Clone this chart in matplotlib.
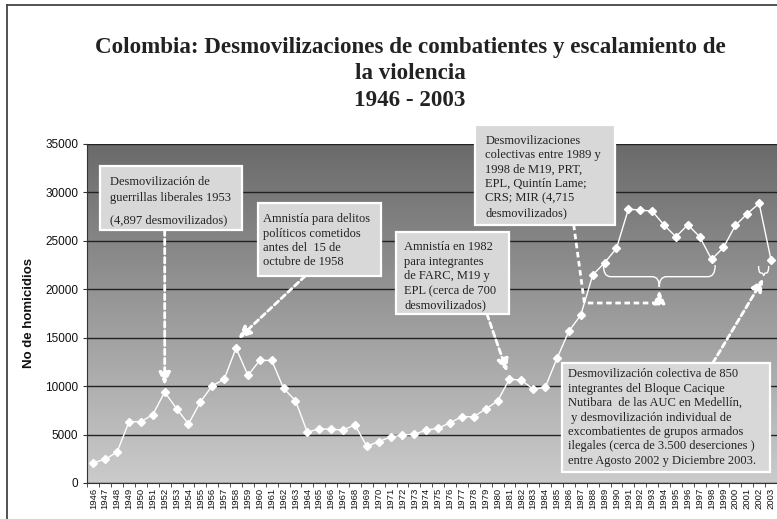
import numpy as np
import matplotlib
matplotlib.use("Agg")
import matplotlib.pyplot as plt
from matplotlib.colors import LinearSegmentedColormap
from matplotlib.patches import Rectangle, PathPatch
from matplotlib.path import Path
from matplotlib.lines import Line2D

# ---------- datos ----------
years = list(range(1946, 2004))
homicidios = [2100, 2440, 3200, 6330, 6330, 7050, 9390, 7670, 6090, 8360,
              10040, 10700, 13930, 11110, 12660, 12660, 9770, 8500, 5230, 5610,
              5540, 5470, 5990, 3790, 4270, 4750, 4950, 5020, 5470, 5640,
              6220, 6840, 6840, 7640, 8460, 10730, 10600, 9700, 9870, 12870,
              15690, 17340, 21470, 22740, 24220, 28280, 28170, 28070, 26630, 25420,
              26660, 25420, 23080, 24320, 26590, 27800, 28860, 23010]
yticks = list(range(0, 35001, 5000))

titulo = ["Colombia: Desmovilizaciones de combatientes y escalamiento de",
          "la violencia",
          "1946 - 2003"]
nota_1953a = "Desmovilización de\nguerrillas liberales 1953"
nota_1953b = "(4,897 desmovilizados)"
nota_1958 = ("Amnistía para delitos\npolíticos cometidos\n"
             "antes del  15 de\noctubre de 1958")
nota_1982 = ("Amnistía en 1982\npara integrantes\nde FARC, M19 y\n"
             "EPL (cerca de 700\ndesmovilizados)")
nota_1989 = ("Desmovilizaciones\ncolectivas entre 1989 y\n1998 de M19, PRT,\n"
             "EPL, Quintín Lame;\nCRS; MIR (4,715\ndesmovilizados)")
nota_2002 = ("Desmovilización colectiva de 850\nintegrantes del Bloque Cacique\n"
             "Nutibara  de las AUC en Medellín,\n y desmovilización individual de\n"
             "excombatientes de grupos armados\nilegales (cerca de 3.500 deserciones )\n"
             "entre Agosto 2002 y Diciembre 2003.")

SERIF = "Liberation Serif"
plt.rcParams["font.family"] = ["Liberation Sans", "DejaVu Sans"]
INK = "#222222"

fig = plt.figure(figsize=(7.77, 5.19), dpi=100)
ax = fig.add_axes([0.1125, 0.0694, 0.8875, 0.6532])

# fondo degradado
grad = LinearSegmentedColormap.from_list("fondo", ["#6a6a6a", "#cbcbcb"])
ax.imshow(np.linspace(0, 1, 256).reshape(-1, 1), cmap=grad, aspect="auto",
          extent=(-0.5, len(years) - 0.5, 0, 35000), zorder=0)

x = np.arange(len(years))
ax.plot(x, homicidios, color="white", lw=1, marker="D", ms=4.5,
        mec="white", mfc="white", zorder=4)

ax.set_xlim(-0.5, len(years) - 0.5)
ax.set_ylim(0, 35000)
ax.set_yticks(yticks)
ax.yaxis.grid(True, color=INK, lw=1)
ax.set_xticks(x)
ax.set_xticklabels(years, rotation=90, fontsize=6.8)
ax.set_xticks(np.arange(-0.5, len(years), 1), minor=True)
ax.tick_params(axis="x", which="major", length=0, pad=3.5, colors="#111111")
ax.tick_params(axis="x", which="minor", length=3, color="#333333")
ax.tick_params(axis="y", length=3, pad=3.5, labelsize=8.5, color="#333333",
               labelcolor="#111111")
for s in ("top", "right"):
    ax.spines[s].set_visible(False)
for s in ("left", "bottom"):
    ax.spines[s].set_color("#333333")
ax.set_ylabel("No de homicidios", fontsize=9.5, fontweight="bold",
              color="#111111")
ax.yaxis.set_label_coords(-0.076, 0.5)

# titulo
for yy, linea in zip([0.9094, 0.8593, 0.8073], titulo):
    fig.text(0.5277, yy, linea, ha="center", va="center", family=SERIF,
             fontsize=16.6, fontweight="bold", color=INK)

# marco
fig.add_artist(Line2D([7 / 777, 7 / 777], [1 - 5 / 519, 0], color="#444444",
                      lw=1.3, transform=fig.transFigure))
fig.add_artist(Line2D([7 / 777, 1], [1 - 5 / 519, 1 - 5 / 519], color="#444444",
                      lw=1.3, transform=fig.transFigure))


def caja(x0, x1, y0, y1):
    ax.add_patch(Rectangle((x0, y0), x1 - x0, y1 - y0, facecolor="#d8d8d8",
                           edgecolor="white", lw=1.6, zorder=6, clip_on=False))


def texto(xx, yy, s, esp=1.27):
    ax.text(xx, yy, s, ha="left", va="center", family=SERIF, fontsize=9,
            color=INK, linespacing=esp, zorder=7, clip_on=False)


def flecha(desde, hasta):
    ax.annotate("", xy=hasta, xytext=desde, zorder=5,
                arrowprops=dict(arrowstyle="-|>,head_length=0.75,head_width=0.34",
                                color="white", lw=2, linestyle=(0, (2, 1.3)),
                                shrinkA=0, shrinkB=0))


def llave(x0, x1, y_fin, y_med, y_punta, rx):
    xc = (x0 + x1) / 2
    verts = [(x0, y_fin), (x0, y_med), (x0 + rx, y_med), (xc - rx, y_med),
             (xc, y_med), (xc, y_punta), (xc, y_med), (xc + rx, y_med),
             (x1 - rx, y_med), (x1, y_med), (x1, y_fin)]
    codes = [Path.MOVETO, Path.CURVE3, Path.CURVE3, Path.LINETO,
             Path.CURVE3, Path.CURVE3, Path.CURVE3, Path.CURVE3,
             Path.LINETO, Path.CURVE3, Path.CURVE3]
    ax.add_patch(PathPatch(Path(verts, codes), facecolor="none",
                           edgecolor="white", lw=1, zorder=5))


i52 = years.index(1952)
i58 = years.index(1958)
i81 = years.index(1981)

caja(0.56, 12.5, 26120, 32730)
texto(1.41, 30250, nota_1953a, esp=1.4)
texto(1.41, 27150, nota_1953b)
flecha((i52, 26120), (i52, homicidios[i52] + 700))

caja(13.86, 24.2, 21370, 28910)
texto(14.28, 25010, nota_1958)
flecha((17.82, 21370), (i58 + 0.18, homicidios[i58] + 950))

caja(25.46, 34.99, 17450, 25910)
texto(26.15, 21340, nota_1982)
flecha((33.1, 17450), (i81 - 0.2, homicidios[i81] + 750))

caja(32.13, 43.91, 26670, 36930)
texto(32.97, 31600, nota_1989)
llave(42.9, 52.3, 22500, 21300, 20230, 0.6)
ax.plot([40.4, 41.3, 47.6], [26670, 18580, 18580], color="white", lw=2,
        ls=(0, (2, 1.3)), zorder=5)
flecha((47.6, 18580), (47.6, 19900))

llave(55.95, 56.8, 22400, 21680, 21370, 0.2)
caja(39.45, 56.87, 1140, 12390)
texto(39.96, 6760, nota_2002)
flecha((52.1, 12390), (56.36, 21100))

fig.savefig("out.png", dpi=100)
